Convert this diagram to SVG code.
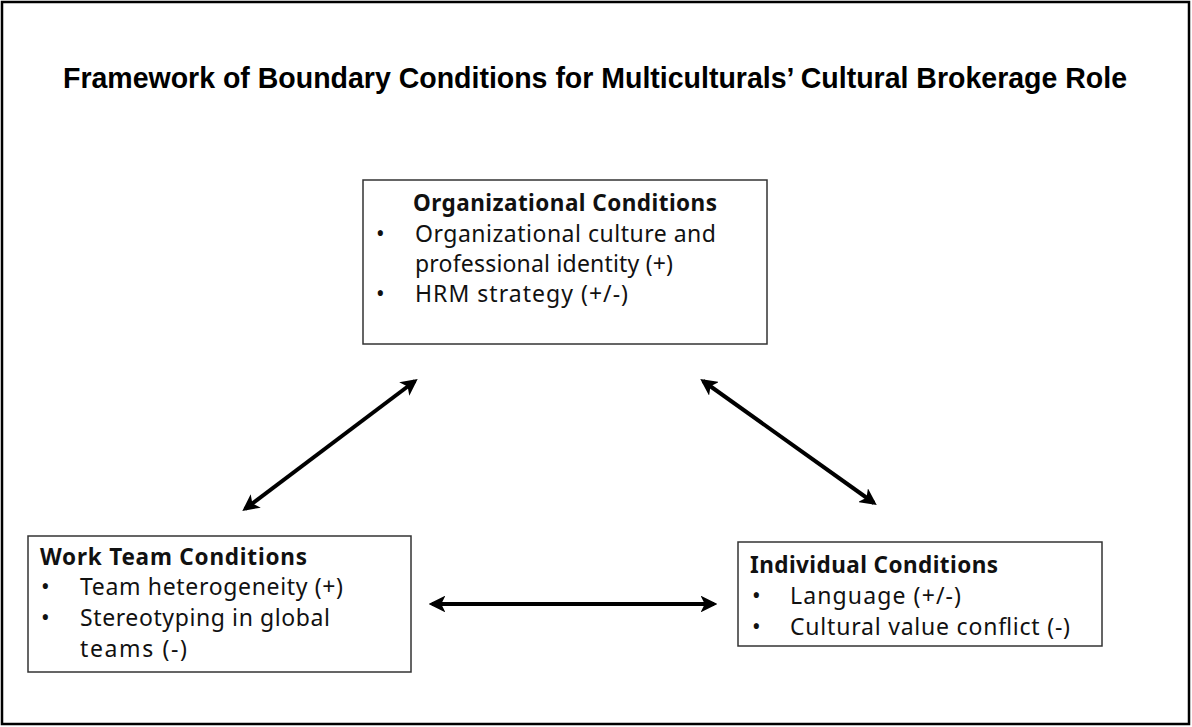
<svg xmlns="http://www.w3.org/2000/svg" width="1192" height="727" viewBox="0 0 1192 727">
<style>
.box{fill:#fff;stroke:#333;stroke-width:1.5}
.h{font-family:"Noto Sans","Liberation Sans",sans-serif;font-weight:bold;font-size:22.5px;fill:#111}
.t{font-family:"Noto Sans","Liberation Sans",sans-serif;font-size:23px;fill:#111}
.conn{stroke:#000;stroke-width:4;fill:none;marker-start:url(#ah);marker-end:url(#ah)}
</style>
<defs>
<marker id="ah" viewBox="0 0 10 10" refX="8" refY="5" markerWidth="4.2" markerHeight="4.2" orient="auto-start-reverse" markerUnits="strokeWidth">
<path d="M0,0 L10,5 L0,10 L2.5,5 Z" fill="#000"/>
</marker>
</defs>
<rect x="0" y="0" width="1192" height="727" fill="#fff"/>
<rect x="2" y="2" width="1187" height="722" fill="none" stroke="#000" stroke-width="2.5"/>
<text x="595" y="88" text-anchor="middle" font-family="'Liberation Sans',Arial,sans-serif" font-weight="bold" font-size="30" textLength="1064" lengthAdjust="spacingAndGlyphs" fill="#000">Framework of Boundary Conditions for Multiculturals’ Cultural Brokerage Role</text>
<g id="org">
<rect class="box" x="363" y="180" width="404" height="164"/>
<text class="h" x="413" y="211" textLength="304">Organizational  Conditions</text>
<text class="t" x="376" y="242">•</text>
<text class="t" x="415" y="242" textLength="301">Organizational culture and</text>
<text class="t" x="415" y="272" textLength="258">professional identity (+)</text>
<text class="t" x="376" y="302">•</text>
<text class="t" x="415" y="302" textLength="213">HRM strategy (+/-)</text>
</g>
<g id="work">
<rect class="box" x="28" y="536" width="383" height="136"/>
<text class="h" x="40" y="565" textLength="267">Work Team Conditions</text>
<text class="t" x="41" y="595">•</text>
<text class="t" x="80" y="595" textLength="263">Team heterogeneity (+)</text>
<text class="t" x="41" y="626">•</text>
<text class="t" x="80" y="626" textLength="250">Stereotyping in global</text>
<text class="t" x="80" y="657" textLength="107">teams (-)</text>
</g>
<g id="individual">
<rect class="box" x="738" y="542" width="364" height="104"/>
<text class="h" x="750" y="573" textLength="248">Individual Conditions</text>
<text class="t" x="752" y="604">•</text>
<text class="t" x="790" y="604" textLength="171">Language (+/-)</text>
<text class="t" x="752" y="635">•</text>
<text class="t" x="790" y="635" textLength="280">Cultural value conflict (-)</text>
</g>
<g id="connectors">
<line class="conn" x1="245" y1="509" x2="415" y2="381"/>
<line class="conn" x1="703" y1="381" x2="874" y2="503"/>
<line class="conn" x1="432" y1="604" x2="714" y2="604"/>
</g>
</svg>
